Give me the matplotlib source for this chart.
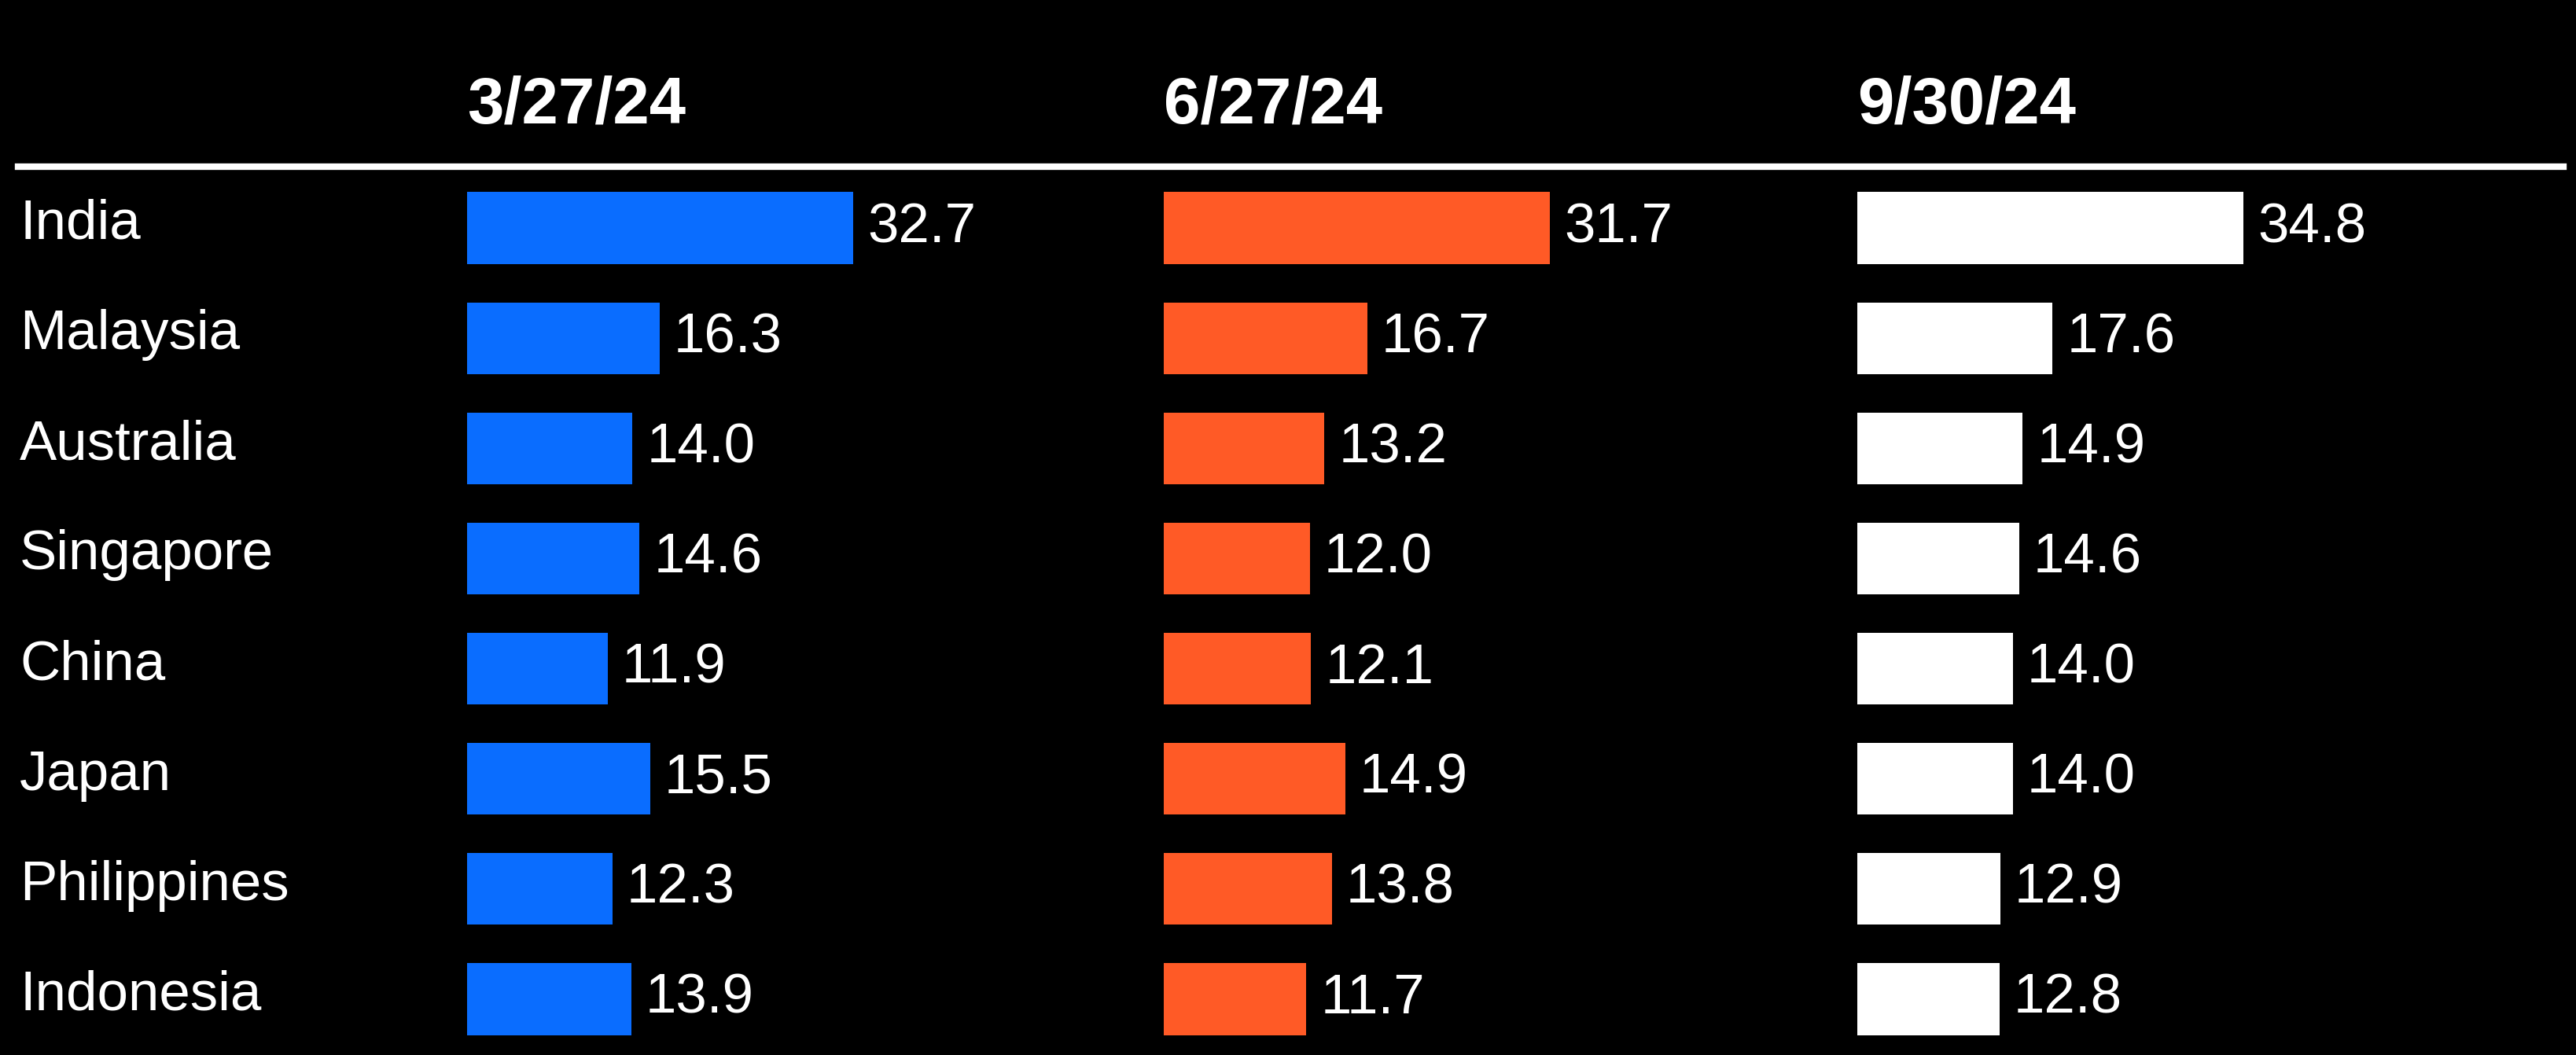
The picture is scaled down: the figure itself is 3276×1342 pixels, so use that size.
import matplotlib
matplotlib.use("Agg")
import matplotlib.pyplot as plt
from matplotlib.transforms import blended_transform_factory
from matplotlib.lines import Line2D

countries = ["India", "Malaysia", "Australia", "Singapore", "China", "Japan", "Philippines", "Indonesia"]
dates = ["3/27/24", "6/27/24", "9/30/24"]
vals_mar = [32.7, 16.3, 14.0, 14.6, 11.9, 15.5, 12.3, 13.9]
vals_jun = [31.7, 16.7, 13.2, 12.0, 12.1, 14.9, 13.8, 11.7]
vals_sep = [34.8, 17.6, 14.9, 14.6, 14.0, 14.0, 12.9, 12.8]
series = [vals_mar, vals_jun, vals_sep]
colors = ["#0A6DFF", "#FF5A26", "#FFFFFF"]

W, H = 3276, 1342
fig = plt.figure(figsize=(W / 100, H / 100), dpi=100, facecolor="black")
plt.rcParams["font.family"] = ["Liberation Sans", "DejaVu Sans"]

lefts = [594, 1480, 2362]
bar_w_px = 491
row_top_px = 290 - 0.5 * 140.1
row_bot_px = 1271 + 0.5 * 140.1
n = len(countries)

axes = []
for i, (vals, col, left) in enumerate(zip(series, colors, lefts)):
    ax = fig.add_axes([left / W, 1 - row_bot_px / H, bar_w_px / W, (row_bot_px - row_top_px) / H])
    ax.set_facecolor("none")
    ys = list(range(n))
    ax.barh(ys, vals, height=0.65, color=col, edgecolor="none")
    ax.set_xlim(0, max(vals))
    ax.set_ylim(n - 0.5, -0.5)
    ax.axis("off")
    for y, v in zip(ys, vals):
        ax.annotate(f"{v:.1f}", xy=(v, y), xytext=(13, 0), textcoords="offset points",
                    va="center", ha="left", color="white", fontsize=51,
                    annotation_clip=False)
    fig.text(left / W, 1 - 134 / H, dates[i], color="white", fontsize=60,
             fontweight="bold", ha="left", va="center")
    axes.append(ax)

trans = blended_transform_factory(fig.transFigure, axes[0].transData)
for y, c in enumerate(countries):
    axes[0].text(25 / W, y - 0.03, c, transform=trans, color="white", fontsize=51,
                 ha="left", va="center", clip_on=False)

fig.add_artist(Line2D([23 / W, 3260 / W], [1 - 212 / H, 1 - 212 / H],
                      transform=fig.transFigure, color="white", linewidth=6))

fig.savefig("out.png", dpi=100, facecolor="black")
